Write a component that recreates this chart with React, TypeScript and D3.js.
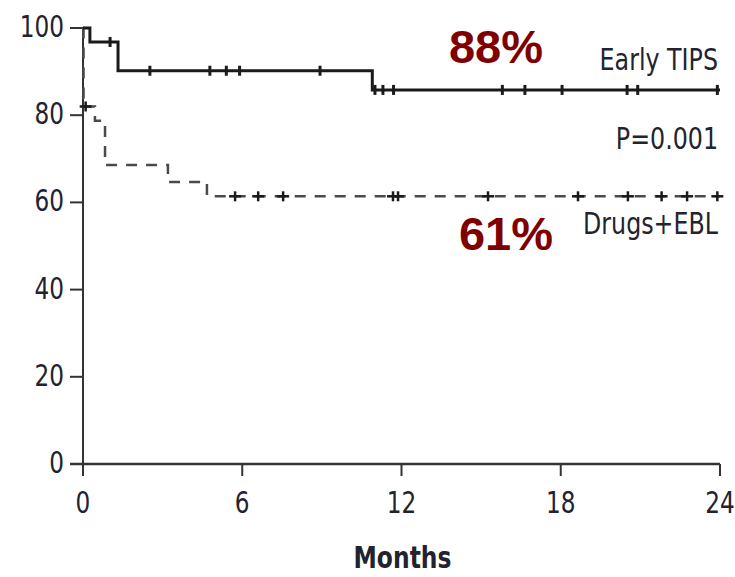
import React from 'react';
import * as d3 from 'd3';

// Kaplan-Meier steps
const tipsTimes = [0, 0.26, 1.32, 10.9, 24];
const tipsSurv = [100, 96.8, 90.2, 85.8, 85.8];
const tipsCensored = [1.02, 2.52, 4.78, 5.4, 5.9, 8.93, 11.0, 11.3, 11.7, 15.8, 16.65, 18.05, 20.5, 20.9, 23.9];

const drugsTimes = [0, 0.02, 0.45, 0.83, 3.2, 4.67, 24];
const drugsSurv = [100, 82, 78.7, 68.6, 64.7, 61.4, 61.4];
const drugsCensored = [0.1, 5.73, 6.6, 7.54, 11.68, 11.87, 15.26, 18.65, 20.53, 21.8, 22.76, 23.9];

const xTicks = [0, 6, 12, 18, 24];
const yTicks = [0, 20, 40, 60, 80, 100];

const FONT = "'DejaVu Sans Condensed', 'DejaVu Sans', sans-serif";
const BOLDFONT = "'Liberation Sans', Arial, sans-serif";
const INK = '#23232f';

const survAt = (times: number[], surv: number[], t: number) => {
  let s = surv[0];
  times.forEach((tt, i) => { if (tt <= t) s = surv[i]; });
  return s;
};

// condensed-looking text: squeezed horizontally around its anchor
const CText = ({ x, y, anchor = 'start', size = 30, sx = 0.86, bold = false, children }: any) => (
  <text transform={`translate(${x},${y}) scale(${sx},1)`} textAnchor={anchor}
    fontFamily={FONT} fontSize={size} fontWeight={bold ? 'bold' : 'normal'} fill={INK}>
    {children}
  </text>
);

const App = () => {
  const width = 735;
  const height = 577;
  const x = d3.scaleLinear().domain([0, 24]).range([83, 720]);
  const y = d3.scaleLinear().domain([0, 100]).range([464, 28]);

  const line = d3.line<[number, number]>()
    .x(d => x(d[0]))
    .y(d => y(d[1]))
    .curve(d3.curveStepAfter);

  const tipsPts = tipsTimes.map((t, i) => [t, tipsSurv[i]] as [number, number]);
  const drugsPts = drugsTimes.map((t, i) => [t, drugsSurv[i]] as [number, number]);

  return (
    <svg width={width} height={height} style={{ position: 'absolute', left: 0, top: 0, background: '#fff' }}>
      {/* axes */}
      <line x1={x(0)} x2={x(0)} y1={y(100)} y2={y(0) + 12} stroke="#333" strokeWidth={2} />
      <line x1={x(0) - 13} x2={x(24)} y1={y(0)} y2={y(0)} stroke="#333" strokeWidth={2.5} />
      {yTicks.map(v => (
        <g key={'y' + v}>
          <line x1={x(0) - 13} x2={x(0)} y1={y(v)} y2={y(v)} stroke="#333" strokeWidth={2} />
          <CText x={x(0) - 19} y={y(v) + 9} anchor="end">{v}</CText>
        </g>
      ))}
      {xTicks.map(v => (
        <g key={'x' + v}>
          <line x1={x(v)} x2={x(v)} y1={y(0)} y2={y(0) + 12} stroke="#333" strokeWidth={2} />
          <CText x={x(v)} y={513} anchor="middle">{v}</CText>
        </g>
      ))}
      <CText x={x(12) + 1} y={568} anchor="middle" size={31} sx={0.84} bold>Months</CText>

      {/* curves */}
      <path d={line(drugsPts) || ''} fill="none" stroke="#4a4a4a" strokeWidth={2.5}
        strokeDasharray="11,9" />
      <path d={line(tipsPts) || ''} fill="none" stroke="#1a1a1a" strokeWidth={3} />

      {tipsCensored.map((t, i) => {
        const cx = x(t), cy = y(survAt(tipsTimes, tipsSurv, t));
        return <line key={'tc' + i} x1={cx} x2={cx} y1={cy - 5} y2={cy + 5} stroke="#1a1a1a" strokeWidth={3} />;
      })}
      {drugsCensored.map((t, i) => {
        const cx = x(t), cy = y(survAt(drugsTimes, drugsSurv, t));
        return (
          <g key={'dc' + i} stroke="#1a1a1a" strokeWidth={2.5}>
            <line x1={cx - 6} x2={cx + 6} y1={cy} y2={cy} />
            <line x1={cx} x2={cx} y1={cy - 5} y2={cy + 5} />
          </g>
        );
      })}

      {/* annotations */}
      <CText x={718} y={70} anchor="end" sx={0.88}>Early TIPS</CText>
      <CText x={718} y={149} anchor="end" sx={0.88}>P=0.001</CText>
      <CText x={718} y={234} anchor="end" sx={0.88}>Drugs+EBL</CText>
      <text x={496} y={63} textAnchor="middle" fontFamily={BOLDFONT}
        fontWeight="bold" fontSize={47} fill="#7f0000">88%</text>
      <text x={506} y={250} textAnchor="middle" fontFamily={BOLDFONT}
        fontWeight="bold" fontSize={47} fill="#7f0000">61%</text>
    </svg>
  );
};

export default App;
